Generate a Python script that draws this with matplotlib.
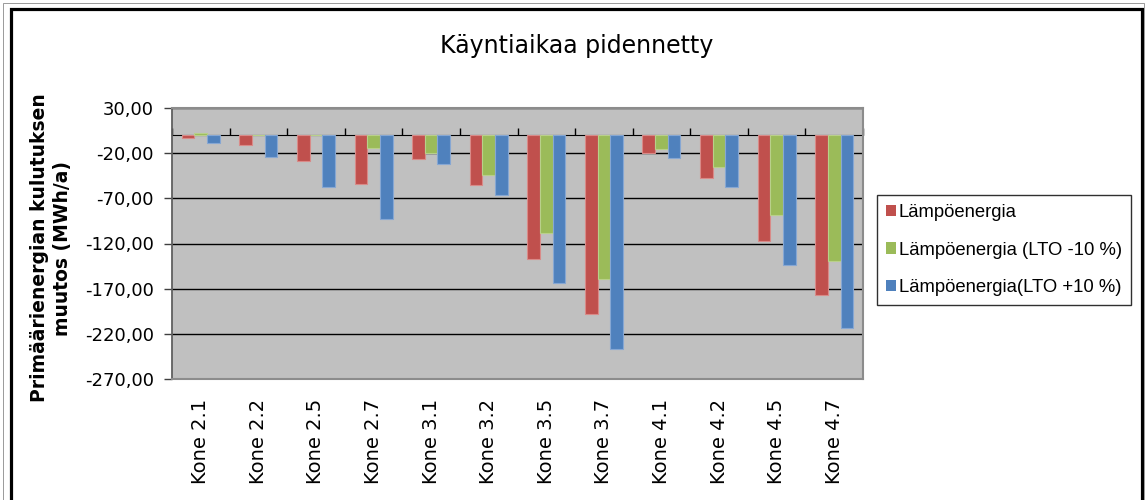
import matplotlib
matplotlib.use("Agg")
import matplotlib.pyplot as plt
import numpy as np
from matplotlib.patches import Patch, Rectangle
from matplotlib.ticker import FuncFormatter, FixedLocator

categories = ['Kone 2.1', 'Kone 2.2', 'Kone 2.5', 'Kone 2.7', 'Kone 3.1', 'Kone 3.2',
              'Kone 3.5', 'Kone 3.7', 'Kone 4.1', 'Kone 4.2', 'Kone 4.5', 'Kone 4.7']
lampoenergia = [-3.0, -11.4, -28.3, -54.0, -26.3, -55.1, -137.4, -197.8, -19.6, -47.8, -116.7, -177.0]
lto_minus10 = [2.3, 0.0, 0.0, -14.0, -20.0, -44.4, -108.5, -159.2, -15.1, -35.6, -88.9, -138.9]
lto_plus10 = [-9.2, -23.7, -57.8, -92.9, -32.2, -66.3, -164.0, -236.7, -25.9, -57.4, -143.3, -213.7]
series_names = ['Lämpöenergia', 'Lämpöenergia (LTO -10 %)', 'Lämpöenergia(LTO +10 %)']
yticks = [30, -20, -70, -120, -170, -220, -270]

colors = ['#C0504D', '#9BBB59', '#4F81BD']
edges = ['#D98A88', '#B9D08A', '#86A7D3']

W, H = 1146, 500
fig = plt.figure(figsize=(W / 100, H / 100), dpi=100)
fig.patch.set_facecolor('white')

ax = fig.add_axes([172 / W, 1 - 379 / H, 691 / W, 271 / H])
ax.set_facecolor('#C0C0C0')

x = np.arange(len(categories))
bw = 0.22
for i, (vals, c, ec, name) in enumerate(zip([lampoenergia, lto_minus10, lto_plus10], colors, edges, series_names)):
    ax.bar(x + (i - 1) * bw, vals, width=bw, color=c, edgecolor=ec, linewidth=0.8, label=name, zorder=3)

ax.set_xlim(-0.5, len(categories) - 0.5)
ax.set_ylim(min(yticks), max(yticks))
ax.yaxis.set_major_locator(FixedLocator(yticks))
ax.yaxis.set_major_formatter(FuncFormatter(lambda v, p: f"{v:.2f}".replace('.', ',')))
ax.grid(axis='y', color='black', linewidth=1.0, zorder=1)
ax.set_axisbelow(True)

ax.tick_params(axis='y', direction='out', length=6, width=1, color='#404040', pad=7,
               labelsize=13, labelcolor='black')
for lab in ax.get_yticklabels():
    lab.set_family('DejaVu Sans')

ax.set_xticks(x)
ax.set_xticklabels(categories, rotation=90, fontsize=14, family='DejaVu Sans', va='top')
ax.tick_params(axis='x', length=0, pad=14)

for s in ['top', 'right', 'bottom']:
    ax.spines[s].set_color('#8C8C8C')
    ax.spines[s].set_linewidth(1.5)
ax.spines['left'].set_color('#606060')
ax.spines['left'].set_linewidth(1.3)

# category axis crossing at zero
ymin, ymax = ax.get_ylim()
zero_frac = (0 - ymin) / (ymax - ymin)
sec = ax.secondary_xaxis(zero_frac)
sec.set_xticks(np.arange(len(categories) + 1) - 0.5)
sec.set_xticklabels([''] * (len(categories) + 1))
sec.tick_params(axis='x', direction='out', length=5, width=1, color='black')
sec.spines['bottom'].set_color('black')
sec.spines['bottom'].set_linewidth(1.2)
sec.spines['bottom'].set_zorder(4)

fig.text(577 / W, 1 - 46 / H, 'Käyntiaikaa pidennetty', ha='center', va='center',
         fontsize=17, family='DejaVu Sans')

fig.text(51 / W, 1 - 248 / H, 'Primäärienergian kulutuksen\nmuutos (MWh/a)', rotation=90,
         ha='center', va='center', multialignment='center', fontsize=13.5,
         fontweight='bold', family='DejaVu Sans', linespacing=1.25)

handles = [Patch(facecolor=c, edgecolor='none') for c in colors]
leg = fig.legend(handles, series_names, loc='upper left',
                 bbox_to_anchor=(877 / W, 1 - 195 / H), bbox_transform=fig.transFigure,
                 fancybox=False, shadow=False, frameon=True, framealpha=1,
                 edgecolor='#303030', prop={'family': 'Liberation Sans', 'size': 13.3},
                 handlelength=0.55, handleheight=0.55, handletextpad=0.12,
                 labelspacing=1.1, borderpad=0.5, borderaxespad=0)
leg.get_frame().set_linewidth(1.0)

# outer chart frame
fig.patches.append(Rectangle((10.5 / W, -0.05), (1141.5 - 10.5) / W, 1.05 - 9.5 / H,
                             transform=fig.transFigure, fill=False, edgecolor='black',
                             linewidth=2.3))
fig.patches.append(Rectangle((3 / W, -0.05), (1144 - 3) / W, 1.05 - 3 / H,
                             transform=fig.transFigure, fill=False, edgecolor='#9A9A9A',
                             linewidth=0.7))

fig.savefig('out.png', dpi=100)
